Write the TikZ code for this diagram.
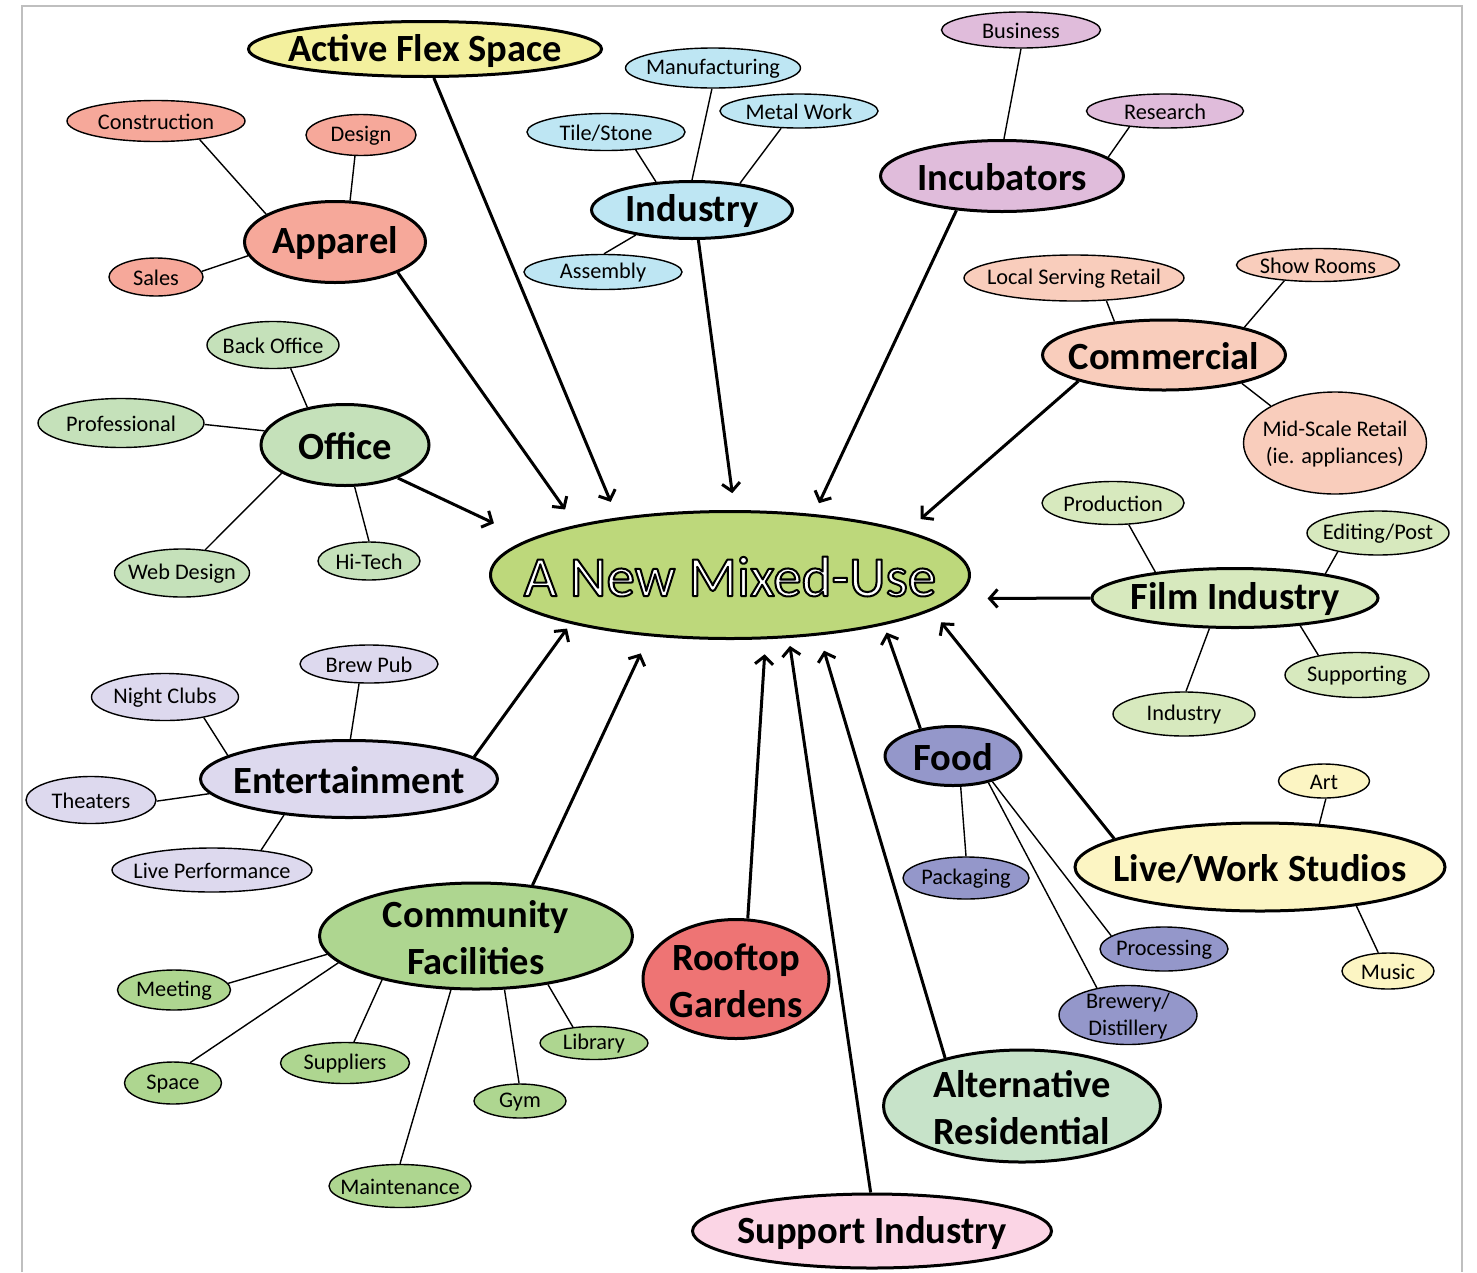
\documentclass[tikz,border=0pt]{standalone}
\usepackage{fontspec}
\setmainfont{Carlito}
\usetikzlibrary{shapes.geometric,arrows.meta}

\definecolor{coreC}{RGB}{189,216,123}
\definecolor{afsC}{RGB}{243,240,158}
\definecolor{appC}{RGB}{246,168,154}
\definecolor{indC}{RGB}{190,230,243}
\definecolor{incC}{RGB}{224,188,219}
\definecolor{comC}{RGB}{249,205,188}
\definecolor{offC}{RGB}{197,225,186}
\definecolor{filC}{RGB}{215,233,190}
\definecolor{entC}{RGB}{221,217,238}
\definecolor{fooC}{RGB}{148,151,202}
\definecolor{lwsC}{RGB}{252,245,195}
\definecolor{cfaC}{RGB}{174,214,144}
\definecolor{rooC}{RGB}{238,116,116}
\definecolor{resC}{RGB}{199,227,201}
\definecolor{supC}{RGB}{251,213,229}
\definecolor{frameC}{RGB}{191,191,191}

\newcommand\hubfont{\bfseries\fontsize{38.5}{47}\selectfont}
\newcommand\leaffont{\fontsize{22.3}{27}\selectfont}
\newcommand\corefont{\fontsize{57}{62}\selectfont}

% white lettering stroked with a thin black outline (fill + stroke rendering mode)
\newcommand\haloword[1]{%
  \textcolor{white}{\special{pdf:code 0 0 0 RG 2 w 1 j 2 Tr}#1\special{pdf:code 0 Tr}}}

\tikzset{
  hub/.style={ellipse, draw=black, line width=3pt, inner sep=0pt, fill=#1},
  leaf/.style={ellipse, draw=black, line width=1.4pt, inner sep=0pt, fill=#1},
  hubtxt/.style={font=\hubfont, align=center, inner sep=0pt, yshift=-1.5pt},
  leaftxt/.style={font=\leaffont, align=center, inner sep=0pt, yshift=-1pt},
  link/.style={line width=1.4pt},
  feed/.style={line width=3pt, -{Straight Barb[length=8pt,width=18pt]}},
}

\begin{document}
\begin{tikzpicture}[x=1pt,y=-1pt]
\useasboundingbox (0,0) rectangle (1477,1272);
\draw[frameC, line width=2.5pt] (22,1272) -- (22,6) -- (1462,6) -- (1462,1272);

% central node
\node[hub=coreC, minimum width=479pt, minimum height=127pt,
      label={[font=\corefont, inner sep=0pt, yshift=-1.5pt]center:\haloword{A New Mixed-Use}}] (core) at (730,575) {};

% main themes
\node[hub=afsC, minimum width=353pt, minimum height=55pt, label={[hubtxt]center:Active Flex Space}] (afs) at (425,49) {};
\node[hub=appC, minimum width=181pt, minimum height=81pt, label={[hubtxt]center:Apparel}] (apparel) at (335,242) {};
\node[hub=indC, minimum width=201pt, minimum height=57pt, label={[hubtxt]center:Industry}] (industry) at (692,210) {};
\node[hub=incC, minimum width=243pt, minimum height=71pt, label={[hubtxt]center:Incubators}] (incub) at (1002,176) {};
\node[hub=comC, minimum width=243pt, minimum height=70pt, label={[hubtxt]center:Commercial}] (commercial) at (1164,355) {};
\node[hub=offC, minimum width=168pt, minimum height=81pt, label={[hubtxt]center:Office}] (office) at (345,445) {};
\node[hub=filC, minimum width=286pt, minimum height=59pt, label={[hubtxt]center:Film Industry}] (film) at (1235,598) {};
\node[hub=entC, minimum width=297pt, minimum height=77pt, label={[hubtxt]center:Entertainment}] (entertainment) at (349,779) {};
\node[hub=fooC, minimum width=136pt, minimum height=59pt, label={[hubtxt]center:Food}] (food) at (953,756) {};
\node[hub=lwsC, minimum width=370pt, minimum height=88pt, label={[hubtxt]center:Live/Work Studios}] (livework) at (1260,867) {};
\node[hub=cfaC, minimum width=313pt, minimum height=106pt, label={[hubtxt]center:Community\\Facilities}] (community) at (476,936) {};
\node[hub=rooC, minimum width=186pt, minimum height=119pt, label={[hubtxt]center:Rooftop\\Gardens}] (rooftop) at (736,979) {};
\node[hub=resC, minimum width=277pt, minimum height=112pt, label={[hubtxt]center:Alternative\\Residential}] (altres) at (1022,1106) {};
\node[hub=supC, minimum width=359pt, minimum height=74pt, label={[hubtxt]center:Support Industry}] (support) at (872,1231) {};

% sub-topics
\node[leaf=appC, minimum width=178pt, minimum height=41pt, label={[leaftxt]center:Construction}] (construction) at (156,121) {};
\node[leaf=appC, minimum width=110pt, minimum height=41pt, label={[leaftxt]center:Design}] (design) at (361,135) {};
\node[leaf=appC, minimum width=94pt, minimum height=38pt, label={[leaftxt]center:Sales}] (sales) at (156,277) {};

\node[leaf=indC, minimum width=175pt, minimum height=40pt, label={[leaftxt]center:Manufacturing}] (manufacturing) at (713,68) {};
\node[leaf=indC, minimum width=158pt, minimum height=34pt, label={[leaftxt]center:Metal Work}] (metalwork) at (799,111) {};
\node[leaf=indC, minimum width=158pt, minimum height=37pt, label={[leaftxt]center:Tile/Stone}] (tilestone) at (606,132) {};
\node[leaf=indC, minimum width=158pt, minimum height=35pt, label={[leaftxt]center:Assembly}] (assembly) at (603,272) {};

\node[leaf=incC, minimum width=159pt, minimum height=36pt, label={[leaftxt]center:Business}] (business) at (1021,30) {};
\node[leaf=incC, minimum width=157pt, minimum height=34pt, label={[leaftxt]center:Research}] (research) at (1165,111) {};

\node[leaf=comC, minimum width=220pt, minimum height=46pt, label={[leaftxt]center:Local Serving Retail}] (localretail) at (1074,278) {};
\node[leaf=comC, minimum width=163pt, minimum height=33pt, label={[leaftxt]center:Show Rooms}] (showrooms) at (1318,265) {};
\node[leaf=comC, minimum width=183pt, minimum height=102pt, label={[leaftxt]center:Mid-Scale Retail\\(ie. appliances)}] (midscale) at (1335,443) {};

\node[leaf=offC, minimum width=132pt, minimum height=47pt, label={[leaftxt]center:Back Office}] (backoffice) at (273,345) {};
\node[leaf=offC, minimum width=166pt, minimum height=49pt, label={[leaftxt]center:Professional}] (professional) at (121,423) {};
\node[leaf=offC, minimum width=135pt, minimum height=48pt, label={[leaftxt]center:Web Design}] (webdesign) at (182,573) {};
\node[leaf=offC, minimum width=102pt, minimum height=38pt, label={[leaftxt]center:Hi-Tech}] (hitech) at (369,561) {};

\node[leaf=filC, minimum width=142pt, minimum height=43pt, label={[leaftxt]center:Production}] (production) at (1113,503) {};
\node[leaf=filC, minimum width=142pt, minimum height=44pt, label={[leaftxt]center:Editing/Post}] (editing) at (1378,533) {};
\node[leaf=filC, minimum width=144pt, minimum height=45pt, label={[leaftxt]center:Supporting}] (supporting) at (1357,675) {};
\node[leaf=filC, minimum width=142pt, minimum height=44pt, label={[leaftxt]center:Industry}] (filmindustry) at (1184,714) {};

\node[leaf=entC, minimum width=138pt, minimum height=38pt, label={[leaftxt]center:Brew Pub}] (brewpub) at (369,664) {};
\node[leaf=entC, minimum width=147pt, minimum height=47pt, label={[leaftxt]center:Night Clubs}] (nightclubs) at (165,697) {};
\node[leaf=entC, minimum width=130pt, minimum height=47pt, label={[leaftxt]center:Theaters}] (theaters) at (91,800) {};
\node[leaf=entC, minimum width=200pt, minimum height=44pt, label={[leaftxt]center:Live Performance}] (liveperf) at (212,870) {};

\node[leaf=fooC, minimum width=126pt, minimum height=42pt, label={[leaftxt]center:Packaging}] (packaging) at (966,878) {};
\node[leaf=fooC, minimum width=128pt, minimum height=44pt, label={[leaftxt]center:Processing}] (processing) at (1164,949) {};
\node[leaf=fooC, minimum width=138pt, minimum height=59pt, label={[leaftxt]center:Brewery/\\Distillery}] (brewery) at (1128,1015) {};

\node[leaf=lwsC, minimum width=91pt, minimum height=34pt, label={[leaftxt]center:Art}] (art) at (1324,781) {};
\node[leaf=lwsC, minimum width=92pt, minimum height=36pt, label={[leaftxt]center:Music}] (music) at (1388,971) {};

\node[leaf=cfaC, minimum width=113pt, minimum height=40pt, label={[leaftxt]center:Meeting}] (meeting) at (174,990) {};
\node[leaf=cfaC, minimum width=97pt, minimum height=42pt, label={[leaftxt]center:Space}] (space) at (173,1083) {};
\node[leaf=cfaC, minimum width=129pt, minimum height=41pt, label={[leaftxt]center:Suppliers}] (suppliers) at (345,1063) {};
\node[leaf=cfaC, minimum width=108pt, minimum height=33pt, label={[leaftxt]center:Library}] (library) at (594,1043) {};
\node[leaf=cfaC, minimum width=92pt, minimum height=34pt, label={[leaftxt]center:Gym}] (gym) at (520,1101) {};
\node[leaf=cfaC, minimum width=142pt, minimum height=43pt, label={[leaftxt]center:Maintenance}] (maintenance) at (400,1186) {};

% thin links between sub-topics and their theme
\draw[link] (construction.337) -- (apparel.158);
\draw[link] (design.254) -- (apparel.70);
\draw[link] (sales.7) -- (apparel.189);
\draw[link] (manufacturing.267) -- (industry.90);
\draw[link] (metalwork.224) -- (industry.29);
\draw[link] (tilestone.329) -- (industry.142);
\draw[link] (assembly.87) -- (industry.204);
\draw[link] (business.270) -- (incub.87);
\draw[link] (research.204) -- (incub.10);
\draw[link] (localretail.325) -- (commercial.146);
\draw[link] (showrooms.205) -- (commercial.19);
\draw[link] (midscale.150) -- (commercial.340);
\draw[link] (backoffice.307) -- (office.135);
\draw[link] (professional.359) -- (office.170);
\draw[link] (webdesign.45) -- (office.204);
\draw[link] (hitech.90) -- (office.283);
\draw[link] (production.306) -- (film.162);
\draw[link] (editing.205) -- (film.15);
\draw[link] (supporting.153) -- (film.337);
\draw[link] (filmindustry.85) -- (film.230);
\draw[link] (brewpub.243) -- (entertainment.88);
\draw[link] (nightclubs.332) -- (entertainment.169);
\draw[link] (theaters.359) -- (entertainment.186);
\draw[link] (liveperf.22) -- (entertainment.209);
\draw[link] (packaging.90) -- (food.284);
\draw[link] (processing.166) -- (food.327);
\draw[link] (brewery.139) -- (food.323);
\draw[link] (art.276) -- (livework.36);
\draw[link] (music.118) -- (livework.338);
\draw[link] (meeting.7) -- (community.187);
\draw[link] (space.50) -- (community.191);
\draw[link] (suppliers.67) -- (community.205);
\draw[link] (library.143) -- (community.326);
\draw[link] (gym.93) -- (community.298);
\draw[link] (maintenance.90) -- (community.245);

% arrows feeding the central node
\draw[feed, shorten >=17pt] (afs.287) -- (core.153);
\draw[feed, shorten >=19pt] (apparel.334) -- (core.162);
\draw[feed, shorten >=17pt] (industry.282) -- (core.86);
\draw[feed, shorten >=12pt] (incub.217) -- (core.36);
\draw[feed, shorten >=18pt] (commercial.197) -- (core.14);
\draw[feed, shorten >=38pt] (office.328) -- (core.170);
\draw[feed, shorten >=33pt] (film.180) -- (core.354);
\draw[feed, shorten >=6pt] (entertainment.10) -- (core.197);
\draw[feed, shorten >=19pt] (community.42) -- (core.217);
\draw[feed, shorten >=15pt] (rooftop.79) -- (core.299);
\draw[feed, shorten >=8pt] (support.92) -- (core.313);
\draw[feed, shorten >=16pt] (altres.148) -- (core.326);
\draw[feed, shorten >=8pt] (food.140) -- (core.342);
\draw[feed, shorten >=15pt] (livework.169) -- (core.350);
\end{tikzpicture}
\end{document}
